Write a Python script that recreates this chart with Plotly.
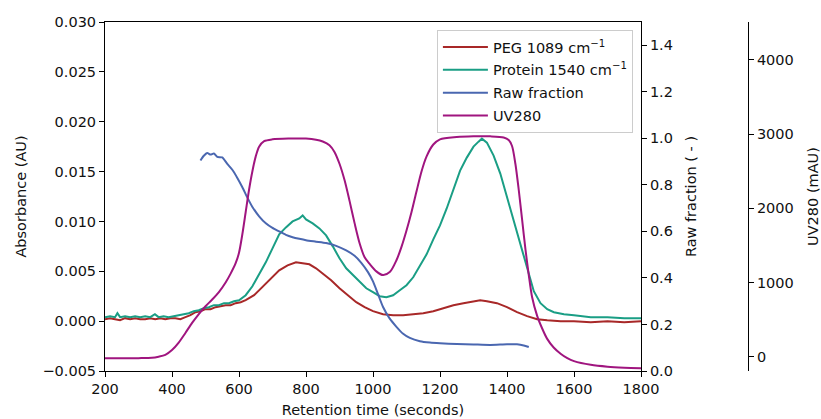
import plotly.graph_objects as go

# Retention time grids (seconds) and the four signals
peg_t = [200, 215, 230, 245, 260, 275, 290, 305, 320, 335, 350, 365, 380, 395, 410, 425, 440, 455,
         470, 485, 500, 515, 530, 545, 560, 575, 590, 605, 620, 645, 670, 695,
         720, 745, 770, 790, 810, 830, 850, 875, 900, 925, 950, 975, 1000, 1030, 1060, 1090, 1120,
         1150, 1180, 1210, 1240, 1270, 1300, 1320, 1340, 1370, 1400, 1430, 1460, 1490, 1520, 1560,
         1600, 1650, 1700, 1750, 1800]
peg_abs = [0.0002, 0.0003, 0.0002, 0.0001, 0.0003, 0.0002, 0.0003, 0.0002, 0.0002, 0.0003, 0.0002,
           0.0003, 0.0002, 0.0003, 0.0003, 0.0002, 0.0004, 0.0006, 0.0009, 0.0010, 0.0012, 0.0012,
           0.0014, 0.0015, 0.0016, 0.0016, 0.0018, 0.0019, 0.0021, 0.0026, 0.0034, 0.0043,
           0.0051, 0.0056, 0.0059, 0.0058,
           0.0057, 0.0053, 0.0048, 0.0041, 0.0033, 0.0026, 0.0019, 0.0014, 0.0010, 0.0007, 0.0006,
           0.0006, 0.0007, 0.0008, 0.0010, 0.0013, 0.0016, 0.0018, 0.0020, 0.0021, 0.0020, 0.0018,
           0.0014, 0.0009, 0.0005, 0.0002, 0.0001, 0.0000, 0.0000, -0.0001, 0.0000, -0.0001, 0.0000]

prot_t = [200, 215, 230, 237, 245, 260, 275, 290, 305, 320, 335, 349, 360, 375, 390, 405, 420, 435,
          450, 465, 480, 495, 510, 525, 540, 555, 570, 585, 600, 620, 640,
          660, 680, 700, 720, 740, 760, 780, 790, 800, 820, 840, 860, 880, 900, 920, 940, 960, 980,
          1000, 1020, 1040, 1060, 1080, 1100, 1120, 1140, 1160, 1180, 1200, 1220, 1240, 1260, 1280,
          1300, 1315, 1325, 1340, 1360, 1380, 1400, 1420, 1440, 1460, 1480, 1500, 1520, 1540, 1570,
          1600, 1650, 1700, 1750, 1800]
prot_abs = [0.0004, 0.0005, 0.0004, 0.0008, 0.0004, 0.0005, 0.0004, 0.0005, 0.0004, 0.0005, 0.0004,
            0.0007, 0.0004, 0.0005, 0.0004, 0.0005, 0.0006, 0.0007, 0.0008, 0.0010, 0.0011, 0.0013,
            0.0014, 0.0016, 0.0016, 0.0018, 0.0018, 0.0020, 0.0021, 0.0026, 0.0035,
            0.0047, 0.0059, 0.0073, 0.0087,
            0.0094, 0.0100, 0.0103, 0.0106, 0.0102, 0.0098, 0.0093, 0.0086, 0.0075, 0.0063, 0.0053,
            0.0046, 0.0040, 0.0033, 0.0029, 0.0025, 0.0024, 0.0026, 0.0031, 0.0036, 0.0044, 0.0055,
            0.0067, 0.0082, 0.0096, 0.0113, 0.0132, 0.0151, 0.0164, 0.0175, 0.0180, 0.0183, 0.0179,
            0.0166, 0.0148, 0.0124, 0.0101, 0.0078, 0.0052, 0.0030, 0.0018, 0.0012, 0.0009, 0.0007,
            0.0006, 0.0004, 0.0004, 0.0003, 0.0003]

frac_t = [485, 495, 505, 515, 525, 535, 550, 565, 580, 595, 610, 625, 640, 660, 680, 700, 720, 740,
          760, 780, 800, 830, 860, 890, 920, 945, 965, 985, 1000, 1015, 1030, 1050, 1070, 1090, 1110,
          1140, 1170, 1200, 1250, 1300, 1350, 1400, 1430, 1450, 1465]
frac_val = [0.905, 0.925, 0.937, 0.930, 0.935, 0.920, 0.918, 0.890, 0.865, 0.830, 0.790, 0.745,
            0.705, 0.665, 0.635, 0.615, 0.600, 0.585, 0.575, 0.568, 0.562, 0.556, 0.550, 0.538,
            0.518, 0.495, 0.465, 0.425, 0.385, 0.330, 0.275, 0.225, 0.190, 0.160, 0.142, 0.128,
            0.122, 0.119, 0.116, 0.114, 0.112, 0.115, 0.115, 0.110, 0.103]

uv_t = [200, 250, 300, 340, 360, 380, 400, 420, 440, 460, 480, 500, 520, 540, 560, 575, 590, 600,
        610, 620, 630, 640, 650, 660, 675, 700, 750, 800, 830, 850, 870, 885, 900, 915, 930, 945,
        960, 975, 990, 1010, 1030, 1050, 1070, 1085, 1100, 1115, 1130, 1145, 1160, 1180, 1200, 1250,
        1300, 1350, 1390, 1405, 1415, 1425, 1435, 1445, 1455, 1465, 1475, 1490, 1505, 1520, 1540,
        1560, 1580, 1600, 1650, 1700, 1750, 1800]
uv_mau = [-20, -22, -20, -15, 0, 25, 90, 190, 320, 455, 575, 680, 770, 870, 1000, 1120, 1260, 1400,
          1650, 1950, 2250, 2500, 2700, 2830, 2905, 2930, 2940, 2940, 2925, 2900, 2850, 2760, 2600,
          2380, 2100, 1800, 1530, 1340, 1250, 1150, 1100, 1140, 1300, 1480, 1700, 1950, 2230, 2500,
          2700, 2860, 2930, 2960, 2970, 2970, 2955, 2920, 2840, 2600, 2250, 1850, 1450, 1100, 800,
          550, 380, 240, 120, 40, -20, -60, -110, -135, -148, -155]

FONT = "DejaVu Sans"
FS = 14.5
TXT = "#111111"

fig = go.Figure()
fig.add_trace(go.Scatter(x=peg_t, y=peg_abs, mode="lines", name="PEG 1089 cm<sup>−1</sup>",
                         line=dict(color="#a82828", width=2), yaxis="y", legendgroup="a"))
fig.add_trace(go.Scatter(x=prot_t, y=prot_abs, mode="lines", name="Protein 1540 cm<sup>−1</sup>",
                         line=dict(color="#1a9e85", width=2), yaxis="y", legendgroup="b"))
fig.add_trace(go.Scatter(x=frac_t, y=frac_val, mode="lines", name="Raw fraction",
                         line=dict(color="#4a67b0", width=2, shape="spline", smoothing=0.6),
                         yaxis="y2", legendgroup="c"))
fig.add_trace(go.Scatter(x=uv_t, y=uv_mau, mode="lines", name="UV280",
                         line=dict(color="#a0157f", width=2, shape="spline", smoothing=0.8),
                         yaxis="y3", legendgroup="d"))

axis_common = dict(showgrid=False, zeroline=False, showline=True, linecolor="black", linewidth=1,
                   ticks="outside", ticklen=5, tickwidth=1, tickcolor="black", automargin=False,
                   tickfont=dict(family=FONT, size=FS, color=TXT))
title_font = dict(family=FONT, size=FS, color=TXT)

fig.update_layout(
    width=821, height=419,
    margin=dict(l=105, r=73, t=22, b=48),
    plot_bgcolor="white", paper_bgcolor="white",
    font=dict(family=FONT, size=FS, color=TXT),
    showlegend=True,
    legend=dict(x=0.821, xanchor="right", y=0.977, yanchor="top",
                bgcolor="rgba(255,255,255,0.8)", bordercolor="#cccccc", borderwidth=1,
                font=dict(family=FONT, size=FS, color=TXT), tracegroupgap=1,
                itemwidth=45),
    xaxis=dict(domain=[0, 536 / 643], range=[200, 1800], dtick=200, mirror=True,
               title=dict(text="Retention time (seconds)", standoff=8, font=title_font),
               **axis_common),
    yaxis=dict(range=[-0.005, 0.030], dtick=0.005, tickformat=".3f",
               title=dict(text="Absorbance (AU)", standoff=12, font=title_font),
               **axis_common),
    yaxis2=dict(overlaying="y", side="right", anchor="x", range=[0, 1.5], dtick=0.2,
                tickformat=".1f",
                title=dict(text="Raw fraction ( - )", standoff=13, font=title_font),
                **axis_common),
    yaxis3=dict(overlaying="y", side="right", anchor="free", position=1.0,
                range=[-193, 4511], dtick=1000,
                title=dict(text="UV280 (mAU)", standoff=15, font=title_font),
                **axis_common),
)

fig.write_html("out.html")
